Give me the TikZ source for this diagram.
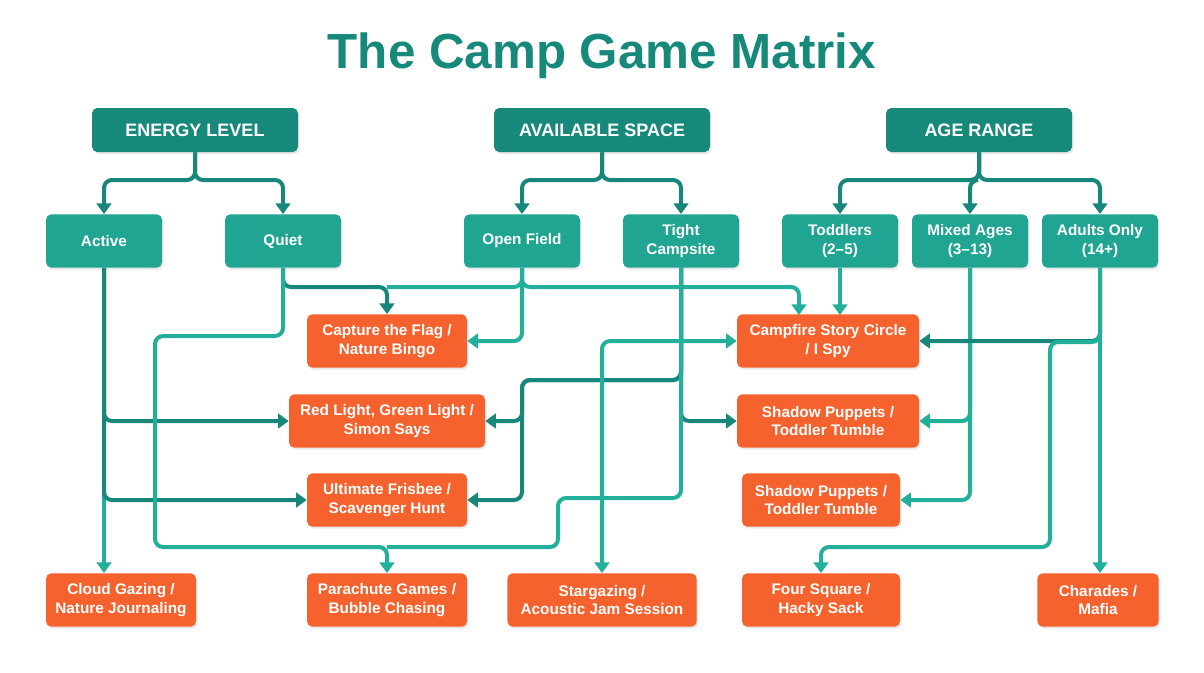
\documentclass[tikz,border=0pt]{standalone}
\usepackage{fontspec}
\setmainfont{Liberation Sans}
\usetikzlibrary{arrows.meta,shadows}
\definecolor{hdr}{HTML}{17897A}
\definecolor{cat}{HTML}{1FA592}
\definecolor{org}{HTML}{F5622D}
\definecolor{dk}{HTML}{17877B}
\definecolor{lt}{HTML}{22B09A}
\begin{document}
\begin{tikzpicture}[x=0.75pt,y=-0.75pt,
  base/.style={rounded corners=4pt,text=white,font=\bfseries,align=center,inner sep=2pt,
    drop shadow={opacity=0.18,shadow xshift=1pt,shadow yshift=-1.5pt}},
  hbox/.style={base,fill=hdr,minimum height=33pt,font=\fontsize{13.5}{16}\selectfont\bfseries},
  cbox/.style={base,fill=cat,minimum width=87pt,minimum height=40pt,font=\fontsize{11.5}{14}\selectfont\bfseries},
  obox/.style={base,fill=org,minimum height=40pt,font=\fontsize{11.5}{14}\selectfont\bfseries},
  con/.style={line width=3pt,rounded corners=6pt,-{Triangle[width=11pt,length=8pt]}},
  dl/.style={con,draw=dk},
  ll/.style={con,draw=lt}]
\useasboundingbox (0,0) rectangle (1204,672);
\fill[white] (0,0) rectangle (1204,672);
\node[text=hdr,font=\fontsize{37}{40}\selectfont\bfseries] (title) at (602,56) {The Camp Game Matrix};
\node[hbox,minimum width=154.5pt] (energy) at (195,130) {ENERGY LEVEL};
\node[hbox,minimum width=162pt] (space) at (602,130) {AVAILABLE SPACE};
\node[hbox,minimum width=139.5pt] (age) at (979,130) {AGE RANGE};
\node[cbox] (active) at (104,241) {Active};
\node[cbox] (quiet) at (283,241) {Quiet};
\node[cbox] (open) at (522,241) {Open Field};
\node[cbox] (tight) at (681,241) {Tight\\Campsite};
\node[cbox] (todd) at (840,241) {Toddlers\\(2–5)};
\node[cbox] (mixed) at (970,241) {Mixed Ages\\(3–13)};
\node[cbox] (adult) at (1100,241) {Adults Only\\(14+)};
\node[obox,minimum width=120pt] (capture) at (387,341) {Capture the Flag /\\Nature Bingo};
\node[obox,minimum width=147pt] (red) at (387,421) {Red Light, Green Light /\\Simon Says};
\node[obox,minimum width=120pt] (ult) at (387,500) {Ultimate Frisbee /\\Scavenger Hunt};
\node[obox,minimum width=112.5pt] (cloud) at (121,600) {Cloud Gazing /\\Nature Journaling};
\node[obox,minimum width=120pt] (para) at (387,600) {Parachute Games /\\Bubble Chasing};
\node[obox,minimum width=142pt] (star) at (602,600) {Stargazing /\\Acoustic Jam Session};
\node[obox,minimum width=118.5pt] (four) at (821,600) {Four Square /\\Hacky Sack};
\node[obox,minimum width=91pt] (chara) at (1098,600) {Charades /\\Mafia};
\node[obox,minimum width=136.5pt] (camp) at (828,341) {Campfire Story Circle\\/ I Spy};
\node[obox,minimum width=136.5pt] (sh1) at (828,421) {Shadow Puppets /\\Toddler Tumble};
\node[obox,minimum width=118.5pt] (sh2) at (821,500) {Shadow Puppets /\\Toddler Tumble};
% headers to categories
\draw[dl] (energy.south) |- (150,180) -| (active.north);
\draw[dl] (energy.south) |- (240,180) -| (quiet.north);
\draw[dl] (space.south) |- (560,180) -| (open.north);
\draw[dl] (space.south) |- (640,180) -| (tight.north);
\draw[dl] (age.south) |- (900,180) -| (todd.north);
\draw[dl] (age.south) |- (970,180) -- (mixed.north);
\draw[dl] (age.south) |- (1050,180) -| (adult.north);
% Active
\draw[ll] (active.south) -- (104,573);
\draw[dl] (active.south) |- (red.west);
\draw[dl] (active.south) |- (ult.west);
% Quiet
\draw[dl] (quiet.south) |- (387,287) -- (capture.north);
\draw[ll] (quiet.south) |- (155,336) |- (387,547) -- (para.north);
% Open field
\draw[ll] (open.south) |- (capture.east);
\draw[ll,-] (open.south) |- (387,287);
\draw[ll] (open.south) |- (799,287) -- (799,315);
% Tight
\draw[dl] (tight.south) |- (522,380) |- (red.east);
\draw[dl] (tight.south) |- (522,380) |- (ult.east);
\draw[dl] (tight.south) |- (sh1.west);
\draw[ll,-] (tight.south) |- (558,498) |- (387,547);
\draw[ll,{Triangle[width=11pt,length=8pt]}-{Triangle[width=11pt,length=8pt]}] (camp.west) -| (star.north);
% Age
\draw[ll] (todd.south) -- (840,315);
\draw[ll] (mixed.south) |- (sh2.east);
\draw[ll] (mixed.south) |- (sh1.east);
\draw[ll] (adult.south) -- (1100,573);
\draw[dl] (adult.south) |- (camp.east);
\draw[ll] (adult.south) |- (1050,342) |- (821,547) -- (four.north);
\end{tikzpicture}
\end{document}
